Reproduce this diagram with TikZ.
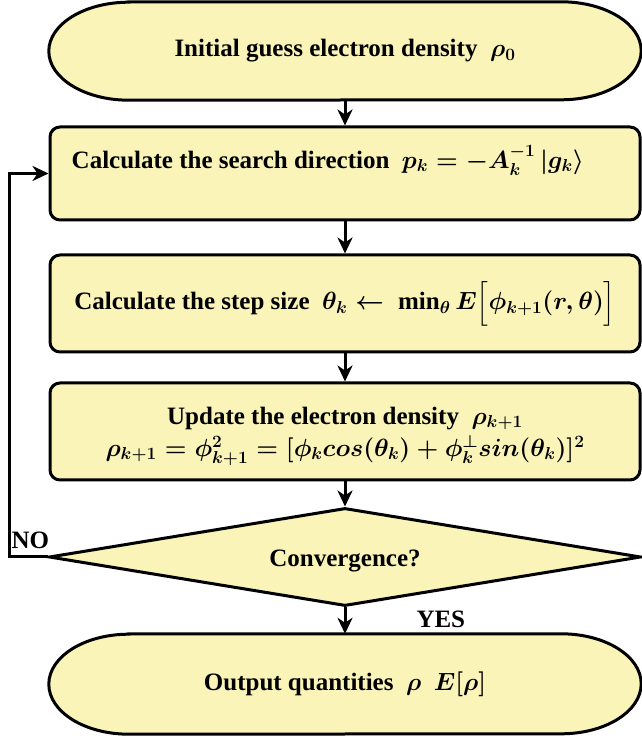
\documentclass[tikz,border=0pt]{standalone}
\usepackage{fontspec}
\setmainfont{Liberation Serif}
\usepackage{amsmath}
\usetikzlibrary{arrows.meta,shapes.geometric,backgrounds}
\definecolor{boxfill}{RGB}{250,244,185}
\tikzset{
  lw/.style={line width=3pt},
  txt/.style={font=\fontsize{25}{32}\selectfont\bfseries\boldmath},
  procbox/.style={draw, lw, fill=boxfill, rounded corners=10pt, minimum width=590pt, minimum height=95pt, inner sep=0pt, txt, align=center},
  termbox/.style={minimum width=592pt, minimum height=98pt, inner sep=0pt, txt},
  termfill/.style={draw, lw, fill=boxfill},
  decbox/.style={diamond, aspect=6.04, draw, lw, fill=boxfill, minimum width=592pt, minimum height=98pt, inner sep=0pt, txt},
  flow/.style={lw, -{Stealth[length=16pt,width=15pt,inset=5pt]}},
  lbl/.style={txt, inner sep=0pt, align=center},
}
\newcommand\stadiumpath[3]{%
  \path[termfill] ([xshift=#2]#1.north west) -- ([xshift=-#2]#1.north east)
    arc[start angle=90,end angle=-90,x radius=#2,y radius=#3]
    -- ([xshift=#2]#1.south west)
    arc[start angle=270,end angle=90,x radius=#2,y radius=#3] -- cycle;}
\begin{document}
\begin{tikzpicture}[x=1pt,y=1pt]
\useasboundingbox (0,0) rectangle (642,740);
% terminals
\node[termbox, minimum height=98pt] (start) at (345,689) {Initial guess electron density\ \ $\rho_0$};
\node[termbox, minimum height=100pt] (stop) at (345,56) {Output quantities\ \ $\rho\ \ E[\rho]$};
\begin{scope}[on background layer]
  \stadiumpath{start}{80pt}{49pt}
  \stadiumpath{stop}{80pt}{50pt}
\end{scope}
% process boxes
\node[procbox, minimum height=93pt] (calc) at (345,566.5) {};
\node[lbl, anchor=west] (calctext) at ([xshift=23pt,yshift=13pt]calc.west)
  {Calculate the search direction\ \ $p_k=-A_k^{-1}\,|g_k\rangle$};
\node[procbox, minimum height=97pt] (stepsz) at (345,436.5)
  {Calculate the step size\ \ $\theta_k \leftarrow\ \min\nolimits_\theta E\Bigl[\phi_{k+1}(r,\theta)\Bigr]$};
\node[procbox, minimum height=97pt] (update) at (345,308.5) {};
\node[lbl] (updtext) at ([yshift=-5pt]update.center)
  {Update the electron density\ \ $\rho_{k+1}$\\
   $\rho_{k+1}=\phi_{k+1}^2=[\phi_k cos(\theta_k)+\phi_k^{\perp}sin(\theta_k)]^2$};
% decision
\node[decbox] (dec) at (345,183) {};
\node[lbl] (dectext) at ([yshift=-4pt]dec.center) {Convergence?};
% connectors
\draw[flow] (start.south) -- (calc.north);
\draw[flow] (calc.south) -- (stepsz.north);
\draw[flow] (stepsz.south) -- (update.north);
\draw[flow] (update.south) -- (dec.north);
\draw[flow] (dec.south) -- node[lbl, pos=0.45, right=70pt] (yes) {YES} (stop.north);
\draw[flow] (dec.west) -- ++(-38pt,0) coordinate (loopc) |- (calc.west);
\node[lbl, anchor=south west] (no) at ([xshift=2pt,yshift=8pt]loopc) {NO};
\end{tikzpicture}
\end{document}
